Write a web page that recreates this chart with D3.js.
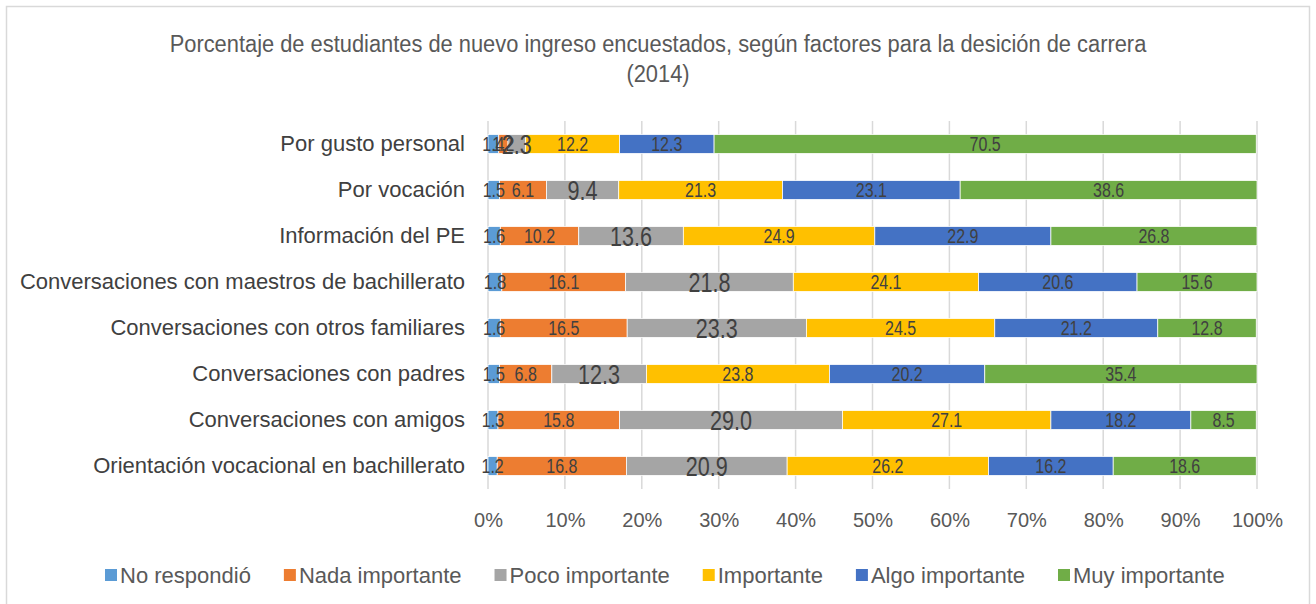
<!DOCTYPE html>
<html lang="es">
<head>
<meta charset="UTF-8">
<title>Factores para la decisión de carrera</title>
<script src="https://d3js.org/d3.v7.min.js"></script>
<style>
  body { margin: 0; background: #fff; }
  svg { display: block; }
</style>
</head>
<body>
<svg id="chart" width="1316" height="604"></svg>
<script>
// categories, top to bottom
const categories = [
  "Por gusto personal",
  "Por vocación",
  "Información del PE",
  "Conversaciones con maestros de bachillerato",
  "Conversaciones con otros familiares",
  "Conversaciones con padres",
  "Conversaciones con amigos",
  "Orientación vocacional en bachillerato"
];
const seriesNames = ["No respondió", "Nada importante", "Poco importante", "Importante", "Algo importante", "Muy importante"];
const noRespondio     = [1.4, 1.5, 1.6, 1.8, 1.6, 1.5, 1.3, 1.2];
const nadaImportante  = [1.2, 6.1, 10.2, 16.1, 16.5, 6.8, 15.8, 16.8];
const pocoImportante  = [2.3, 9.4, 13.6, 21.8, 23.3, 12.3, 29.0, 20.9];
const importante      = [12.2, 21.3, 24.9, 24.1, 24.5, 23.8, 27.1, 26.2];
const algoImportante  = [12.3, 23.1, 22.9, 20.6, 21.2, 20.2, 18.2, 16.2];
const muyImportante   = [70.5, 38.6, 26.8, 15.6, 12.8, 35.4, 8.5, 18.6];
const xTicks = [0, 10, 20, 30, 40, 50, 60, 70, 80, 90, 100];

const colors = ["#5B9BD5", "#ED7D31", "#A5A5A5", "#FFC000", "#4472C4", "#70AD47"];
const allSeries = [noRespondio, nadaImportante, pocoImportante, importante, algoImportante, muyImportante];

const rows = categories.map((c, i) => {
  const r = { cat: c };
  seriesNames.forEach((s, j) => r[s] = allSeries[j][i]);
  return r;
});
const stacked = d3.stack().keys(seriesNames)(rows);

const svg = d3.select("#chart");
const font = "'Liberation Sans', Arial, sans-serif";

// squeeze text a bit sideways, the original uses a narrow face
function condense(sel, k) {
  sel.each(function() {
    const w = this.getComputedTextLength();
    d3.select(this).attr("textLength", w * k).attr("lengthAdjust", "spacingAndGlyphs");
  });
}

// frame
svg.append("rect")
  .attr("x", 6.5).attr("y", 6.5)
  .attr("width", 1303).attr("height", 604)
  .attr("fill", "none").attr("stroke", "#d9d9d9").attr("stroke-width", 1.5);

// title
const title = svg.append("g")
  .attr("font-family", font).attr("font-size", 23)
  .attr("fill", "#595959").attr("text-anchor", "middle");
title.append("text")
  .attr("x", 658).attr("y", 52)
  .text("Porcentaje de estudiantes de nuevo ingreso encuestados, según factores para la desición de carrera");
title.append("text")
  .attr("x", 658).attr("y", 82)
  .text("(2014)");
condense(title.selectAll("text"), 0.95);

const x = d3.scaleLinear().domain([0, 100]).range([488, 1257]);
const y = d3.scaleBand().domain(categories).range([121, 489]).paddingInner(0.59).paddingOuter(0.295);

// gridlines
svg.append("g")
  .selectAll("line")
  .data(xTicks)
  .join("line")
  .attr("x1", d => x(d)).attr("x2", d => x(d))
  .attr("y1", 121).attr("y2", 489)
  .attr("stroke", "#d9d9d9").attr("stroke-width", 1.5);

// x axis labels
const xAxis = svg.append("g")
  .attr("transform", "translate(0,489)")
  .call(d3.axisBottom(x).tickValues(xTicks).tickFormat(d => d + "%").tickSize(0).tickPadding(24));
xAxis.select(".domain").remove();
xAxis.selectAll("text")
  .attr("font-family", font).attr("font-size", 20).attr("fill", "#595959");

// y axis labels
const yAxis = svg.append("g")
  .attr("transform", "translate(488,0)")
  .call(d3.axisLeft(y).tickSize(0).tickPadding(23));
yAxis.select(".domain").remove();
yAxis.selectAll("text")
  .attr("font-family", font).attr("font-size", 22).attr("fill", "#404040");

// bars
svg.append("g")
  .selectAll("g")
  .data(stacked)
  .join("g")
  .attr("fill", (d, i) => colors[i])
  .selectAll("rect")
  .data(d => d)
  .join("rect")
  .attr("x", d => x(d[0]))
  .attr("y", d => y(d.data.cat))
  .attr("width", d => x(d[1]) - x(d[0]))
  .attr("height", y.bandwidth())
  .attr("stroke", "#fff").attr("stroke-width", 0.75);

// data labels on top of all bars (the "Poco importante" ones are bigger in the original)
svg.append("g")
  .selectAll("g")
  .data(stacked)
  .join("g")
  .each(function(layer, i) {
    const t = d3.select(this).selectAll("text")
      .data(layer)
      .join("text")
      .attr("x", d => (x(d[0]) + x(d[1])) / 2)
      .attr("y", d => y(d.data.cat) + y.bandwidth() / 2)
      .attr("dy", "0.36em")
      .attr("text-anchor", "middle")
      .attr("font-family", font)
      .attr("font-size", i === 2 ? 27 : 20)
      .attr("fill", "#404040")
      .text(d => (d[1] - d[0]).toFixed(1));
    condense(t, 0.8);
  });

// legend
const legend = svg.append("g").attr("transform", "translate(0,575)");
let lx = 105;
seriesNames.forEach((s, i) => {
  const item = legend.append("g").attr("transform", `translate(${lx},0)`);
  item.append("rect")
    .attr("x", 0).attr("y", -6)
    .attr("width", 12).attr("height", 12)
    .attr("fill", colors[i]);
  const t = item.append("text")
    .attr("x", 15).attr("dy", "0.36em")
    .attr("font-family", font).attr("font-size", 22)
    .attr("fill", "#595959")
    .text(s);
  lx += 15 + t.node().getComputedTextLength() + 33;
});
</script>
</body>
</html>
